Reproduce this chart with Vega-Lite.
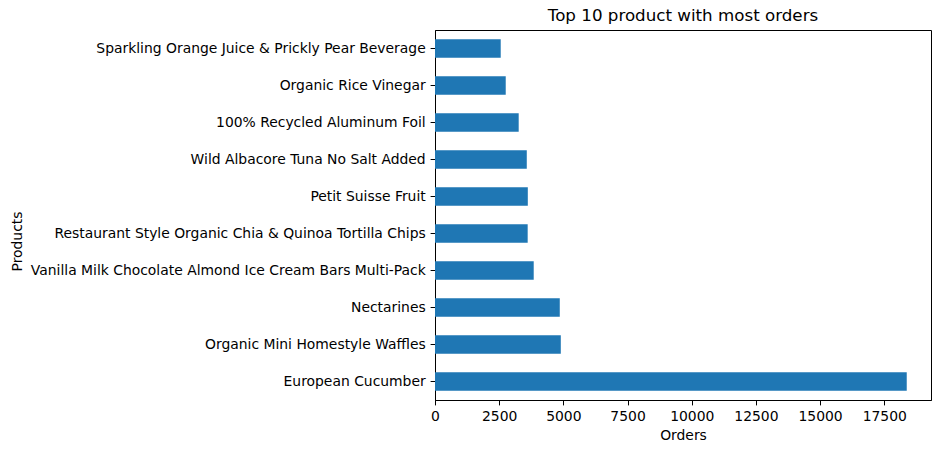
{
  "$schema": "https://vega.github.io/schema/vega-lite/v6.json",
  "autosize": {"type": "none"},
  "padding": {"left": 435, "top": 30, "right": 9, "bottom": 53},
  "width": 496,
  "height": 370,
  "background": "white",
  "title": {
    "text": "Top 10 product with most orders",
    "font": "DejaVu Sans",
    "fontSize": 16.7,
    "fontWeight": "normal",
    "color": "black",
    "anchor": "middle",
    "offset": 5
  },
  "config": {
    "view": {"stroke": "black", "strokeWidth": 1},
    "axis": {
      "labelFont": "DejaVu Sans",
      "labelFontSize": 13.9,
      "labelColor": "black",
      "titleFont": "DejaVu Sans",
      "titleFontSize": 13.9,
      "titleFontWeight": "normal",
      "titleColor": "black",
      "domainColor": "black",
      "tickColor": "black",
      "tickSize": 4.9,
      "labelPadding": 4.9,
      "grid": false
    }
  },
  "data": {
    "values": [
      {"product": "Sparkling Orange Juice & Prickly Pear Beverage", "orders": 2560},
      {"product": "Organic Rice Vinegar", "orders": 2755},
      {"product": "100% Recycled Aluminum Foil", "orders": 3260},
      {"product": "Wild Albacore Tuna No Salt Added", "orders": 3575},
      {"product": "Petit Suisse Fruit", "orders": 3615},
      {"product": "Restaurant Style Organic Chia & Quinoa Tortilla Chips", "orders": 3610},
      {"product": "Vanilla Milk Chocolate Almond Ice Cream Bars Multi-Pack", "orders": 3845},
      {"product": "Nectarines", "orders": 4860},
      {"product": "Organic Mini Homestyle Waffles", "orders": 4900},
      {"product": "European Cucumber", "orders": 18375}
    ]
  },
  "mark": {"type": "bar", "color": "#1f77b4"},
  "encoding": {
    "y": {
      "field": "product",
      "type": "nominal",
      "sort": null,
      "title": "Products",
      "scale": {"paddingInner": 0.5, "paddingOuter": 0.25},
      "axis": {"labelLimit": 500, "titleX": -414, "titleY": 211, "titleBaseline": "alphabetic", "titleAngle": 270}
    },
    "x": {
      "field": "orders",
      "type": "quantitative",
      "title": "Orders",
      "scale": {"domain": [0, 19320], "nice": false, "zero": true},
      "axis": {"values": [0, 2500, 5000, 7500, 10000, 12500, 15000, 17500], "format": "d", "titlePadding": 5, "labelFlush": false}
    }
  }
}
